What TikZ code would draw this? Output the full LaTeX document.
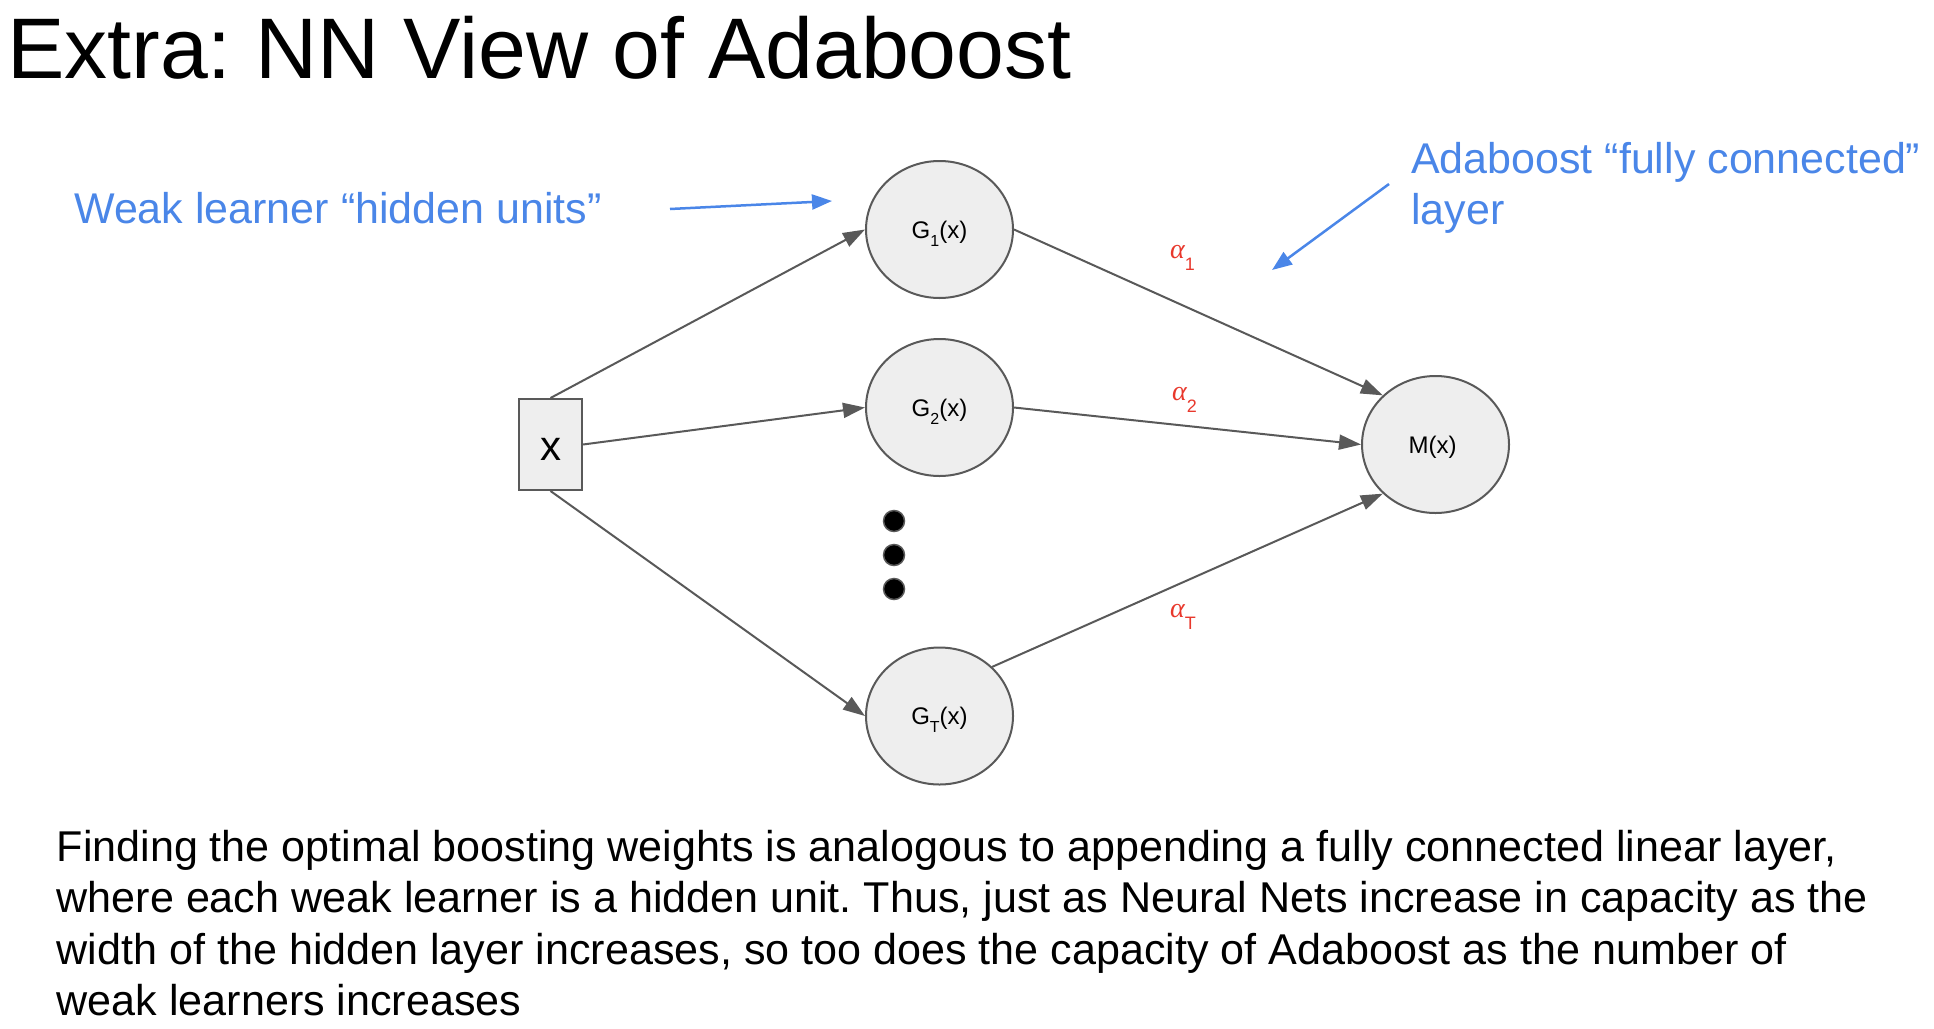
\documentclass[tikz,border=0pt]{standalone}
\usepackage{fontspec}
\setmainfont{Liberation Sans}
\newfontfamily\alphafont{Liberation Serif}
\usetikzlibrary{shapes.geometric,arrows.meta}
\definecolor{edgegray}{HTML}{595959}
\definecolor{nodefill}{HTML}{EEEEEE}
\definecolor{noteblue}{HTML}{4A86E8}
\definecolor{alphared}{HTML}{E8382C}
\newcommand{\subsc}[1]{\raisebox{-8pt}{\fontsize{16}{16}\selectfont #1}}
\newcommand{\wlab}[1]{{\alphafont\itshape\fontsize{28}{28}\selectfont α}\raisebox{-12pt}{\fontsize{18}{18}\selectfont #1}}
\frenchspacing
\begin{document}
\begin{tikzpicture}[x=1pt,y=-1pt,
  unit/.style={ellipse, draw=edgegray, fill=nodefill, line width=2pt, minimum width=147pt, minimum height=137pt, inner sep=0pt, text height=17.5pt, text depth=0pt, font=\fontsize{24}{24}\selectfont},
  inbox/.style={rectangle, draw=edgegray, fill=nodefill, line width=2pt, minimum width=63pt, minimum height=91pt, inner sep=0pt, text height=32pt, text depth=0pt, font=\fontsize{42}{42}\selectfont},
  conn/.style={draw=edgegray, line width=2pt, -{Triangle[length=22pt,width=15pt]}},
  note/.style={text=noteblue, font=\fontsize{43}{51}\selectfont, inner sep=0pt, anchor=base west},
  pointer/.style={draw=noteblue, line width=2.5pt, -{Triangle[length=20pt,width=15pt]}},
  wlabel/.style={text=alphared, inner sep=0pt, anchor=base west},
  dotnode/.style={circle, fill=black, draw=edgegray, line width=1.5pt, minimum size=21pt, inner sep=0pt},
]
\useasboundingbox (0,0) rectangle (1934,1028);

% title
\node[anchor=base west, inner sep=0pt] (title) at (7,78) {\fontsize{86}{90}\selectfont Extra: NN View of Adaboost};

% nodes
\node[inbox] (x) at (550.5,444.5) {x};
\node[unit] (g1) at (939.5,229.5) {G\subsc{1}(x)};
\node[unit] (g2) at (939.5,407.5) {G\subsc{2}(x)};
\node[unit] (gT) at (939.5,716) {G\subsc{T}(x)};
\node[unit] (m) at (1435.5,444.5) {M(x)\hspace*{6pt}};

% dots
\node[dotnode] (d1) at (894,521) {};
\node[dotnode] (d2) at (894,555) {};
\node[dotnode] (d3) at (894,589) {};

% connectors
\draw[conn] (x.north) -- (g1.west);
\draw[conn] (x.east) -- (g2.west);
\draw[conn] (x.south) -- (gT.west);
\draw[conn] (g1.east) -- (m.north west);
\draw[conn] (g2.east) -- (m.west);
\draw[conn] (gT.north east) -- (m.south west);

% weights
\node[wlabel] (a1) at (1170,258) {\wlab{1}};
\node[wlabel] (a2) at (1172,400) {\wlab{2}};
\node[wlabel] (aT) at (1170,617) {\wlab{T}};

% notes
\node[note] (wl) at (74,223) {Weak learner “hidden units”};
\node[note] (fc1) at (1411,173) {Adaboost “fully connected”};
\node[note] (fc2) at (1411,224) {layer};
\coordinate (p1s) at (670,209);
\coordinate (p1e) at (832,201);
\draw[pointer] (p1s) -- (p1e);
\coordinate (p2s) at (1389,184);
\coordinate (p2e) at (1272,270);
\draw[pointer] (p2s) -- (p2e);

% paragraph
\node[anchor=north west, inner sep=0pt, align=left, font=\fontsize{43.1}{51.3}\selectfont] (para) at (56.5,830) {Finding the optimal boosting weights is analogous to appending a fully connected linear layer,\\
where each weak learner is a hidden unit. Thus, just as Neural Nets increase in capacity as the\\
width of the hidden layer increases, so too does the capacity of Adaboost as the number of\\
weak learners increases};
\end{tikzpicture}
\end{document}
